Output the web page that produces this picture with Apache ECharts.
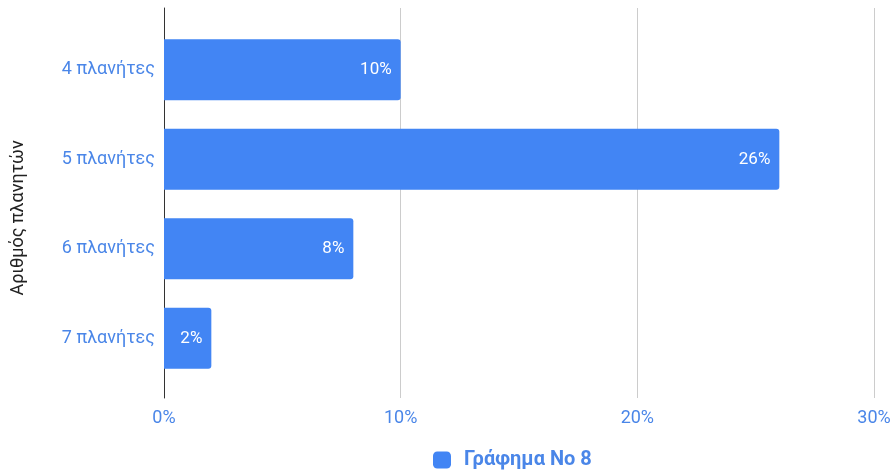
<!DOCTYPE html>
<html>
<head>
<meta charset="utf-8">
<script src="https://cdn.jsdelivr.net/npm/echarts@6/dist/echarts.min.js"></script>
<style>
  html, body { margin: 0; padding: 0; background: #fff; }
  #chart { width: 894px; height: 472px; }
</style>
</head>
<body>
<div id="chart"></div>
<script>
const categories = ['4 πλανήτες', '5 πλανήτες', '6 πλανήτες', '7 πλανήτες'];
const values = [10, 26, 8, 2];
const seriesName = 'Γράφημα Νο 8';
const axisTitle = 'Αριθμός πλανητών';

const blue = '#4285f4';
const textBlue = '#4a86e8';
const font = 'Roboto, "Noto Sans", sans-serif';

const chart = echarts.init(document.getElementById('chart'));

const option = {
  animation: false,
  textStyle: { fontFamily: font },
  grid: [
    // full plot frame: gridlines + x labels + axis line
    { left: 164, right: 20, top: 8, bottom: 74 },
    // inner band for the bars
    { left: 164, right: 20, top: 25, bottom: 89 }
  ],
  graphic: [
    {
      type: 'text',
      x: 18,
      y: 218,
      rotation: Math.PI / 2,
      style: {
        text: axisTitle,
        fill: '#222',
        font: '18px ' + font,
        align: 'center',
        verticalAlign: 'middle'
      }
    }
  ],
  legend: {
    top: 450,
    left: 433,
    padding: 0,
    itemWidth: 18,
    itemHeight: 17,
    icon: 'roundRect',
    textStyle: {
      color: textBlue,
      fontSize: 20,
      fontWeight: 'bold',
      fontFamily: font,
      padding: [0, 0, 0, 8]
    },
    data: [seriesName]
  },
  xAxis: [
    {
      gridIndex: 0,
      type: 'value',
      min: 0,
      max: 30,
      interval: 10,
      axisLine: { show: false },
      axisTick: { show: false },
      splitLine: { lineStyle: { color: '#cccccc' } },
      axisLabel: { color: textBlue, fontSize: 18, margin: 11, formatter: '{value}%' }
    },
    {
      gridIndex: 1,
      type: 'value',
      min: 0,
      max: 30,
      show: false
    }
  ],
  yAxis: [
    {
      gridIndex: 0,
      type: 'value',
      min: 0,
      max: 1,
      axisLine: { show: true, lineStyle: { color: '#333' } },
      axisTick: { show: false },
      axisLabel: { show: false },
      splitLine: { show: false }
    },
    {
      gridIndex: 1,
      type: 'category',
      inverse: true,
      data: categories,
      axisLine: { show: false },
      axisTick: { show: false },
      axisLabel: { color: textBlue, fontSize: 18, margin: 9 }
    }
  ],
  series: [
    {
      name: seriesName,
      type: 'bar',
      xAxisIndex: 1,
      yAxisIndex: 1,
      data: values,
      barCategoryGap: '32%',
      itemStyle: { color: blue, borderRadius: [0, 3, 3, 0] },
      label: {
        show: true,
        position: 'insideRight',
        distance: 9,
        color: '#fff',
        fontSize: 17,
        formatter: '{c}%'
      }
    }
  ]
};

chart.setOption(option);
</script>
</body>
</html>
